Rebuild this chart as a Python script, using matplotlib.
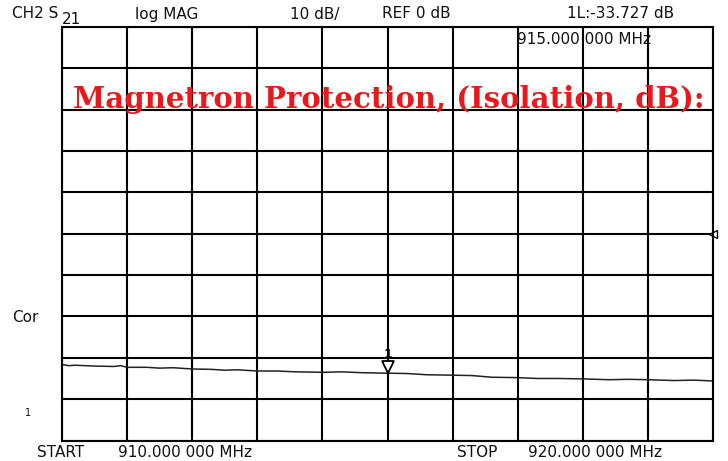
import matplotlib
matplotlib.use('Agg')
import matplotlib.pyplot as plt
import numpy as np

# S21 trace (MHz, dB)
freq = [910.0, 910.1, 910.2, 910.5, 910.8, 910.9, 911.0, 911.3, 911.5, 911.7,
        912.0, 912.3, 912.5, 912.7, 913.0, 913.3, 913.6, 914.0, 914.3, 914.6,
        915.0, 915.3, 915.6, 916.0, 916.3, 916.6, 917.0, 917.3, 917.6, 918.0,
        918.4, 918.7, 919.0, 919.4, 919.7, 920.0]
s21 = [-31.6, -31.9, -31.8, -32.0, -32.1, -31.9, -32.3, -32.3, -32.5, -32.4,
       -32.7, -32.8, -33.0, -32.9, -33.2, -33.2, -33.4, -33.5, -33.4, -33.6,
       -33.727, -33.8, -34.1, -34.2, -34.3, -34.7, -34.8, -35.0, -35.0, -35.1,
       -35.3, -35.2, -35.3, -35.5, -35.4, -35.6]
marker_f = 915.0
marker_db = -33.727

W, H = 728, 461
fig = plt.figure(figsize=(W / 100, H / 100), dpi=100)
ax = fig.add_axes([62 / W, 1 - 440.5 / H, (713 - 62) / W, (440.5 - 27) / H])

ax.set_xlim(910, 920)
ax.set_ylim(-50, 50)
ax.set_xticks(np.linspace(910, 920, 11))
ax.set_yticks(np.linspace(-50, 50, 11))
ax.tick_params(length=0, labelbottom=False, labelleft=False)
ax.grid(True, color='black', linewidth=1.5)
for s in ax.spines.values():
    s.set_linewidth(1.5)
    s.set_color('black')

ax.plot(freq, s21, color='#222222', linewidth=1.1)

# marker 1
ax.plot(marker_f, marker_db + 1.5, marker='v', markersize=9,
        markerfacecolor='white', markeredgecolor='black', markeredgewidth=1.3)
ax.text(marker_f, marker_db + 3.0, '1', ha='center', va='bottom',
        fontsize=9, fontweight='bold')

# reference position arrow on right edge
ax.plot(920, 0, marker='<', markersize=6, markerfacecolor='white',
        markeredgecolor='black', clip_on=False)

fig.text(389 / W, 1 - 99 / H, 'Magnetron Protection, (Isolation, dB):',
         ha='center', va='center', fontsize=21, fontweight='bold',
         color='#e8191c', family='DejaVu Serif')

def px(x, y, s, size=11):
    fig.text(x / W, 1 - y / H, s, fontsize=size, family='DejaVu Sans',
             va='center', ha='left', color='#111111')

px(12, 14, 'CH2 S')
px(62, 19, '21')
px(135, 14, 'log MAG')
px(290, 14, '10 dB/')
px(382, 14, 'REF 0 dB')
px(567, 14, '1L:-33.727 dB')
px(517, 40, '915.000 000 MHz')
px(12, 318, 'Cor')
px(25, 413, '1', size=7)
px(37, 452, 'START')
px(118, 452, '910.000 000 MHz')
px(457, 452, 'STOP')
px(528, 452, '920.000 000 MHz')

fig.savefig('out.png', dpi=100, facecolor='white')
